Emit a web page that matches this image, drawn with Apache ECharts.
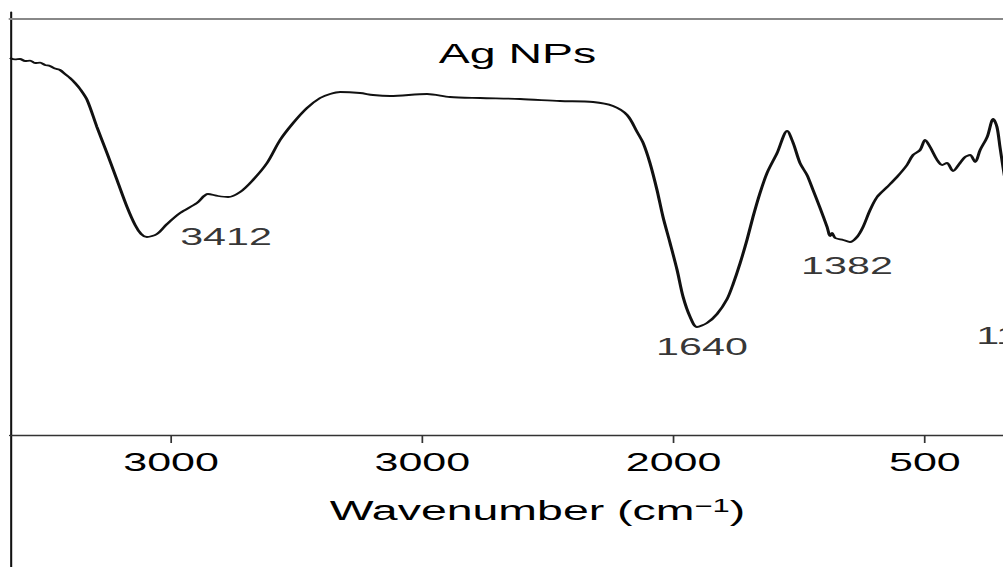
<!DOCTYPE html>
<html>
<head>
<meta charset="utf-8">
<script src="https://cdn.jsdelivr.net/npm/echarts@6/dist/echarts.min.js"></script>
<style>
  html, body { margin: 0; padding: 0; background: #fff; overflow: hidden; }
  /* the reference is a horizontally stretched picture, so the chart is stretched the same way */
  #main { width: 583px; height: 567px; transform: scaleX(1.7204); transform-origin: 0 0; }
</style>
</head>
<body>
<div id="main"></div>
<script>
// wavenumber-like x positions (cm-1) and transmittance (%)
var wavenumber = [4141, 4121, 4101, 4081, 4061, 4041, 4021, 4002, 3982, 3962, 3942, 3922, 3902, 3882, 3862,
  3834, 3795, 3755, 3715, 3675, 3643, 3619, 3596, 3556, 3516, 3464, 3397, 3353, 3313, 3273, 3225, 3174,
  3118, 3066, 3014, 2959, 2907, 2867, 2827, 2748, 2696, 2628, 2481, 2390, 2270, 2111, 1952, 1820, 1741,
  1685, 1645, 1621, 1594, 1566, 1542, 1514, 1486, 1462, 1434, 1407, 1367, 1327, 1287, 1263, 1235, 1208,
  1184, 1156, 1128, 1088, 1048, 1024, 997, 969, 945, 917, 889, 877, 869, 857, 825, 798, 770, 746, 718,
  690, 650, 611, 571, 547, 519, 499, 479, 451, 431, 412, 388, 360, 340, 320, 300, 280, 252, 228, 213,
  201, 189, 177];
var transmittance = [94.25, 93.9, 94.0, 93.5, 93.6, 93.0, 93.1, 92.5, 92.25, 91.6, 91.25, 90.25, 89.25, 88.0, 86.5,
  83.75, 77.0, 70.5, 63.75, 57.0, 52.5, 50.25, 49.5, 50.25, 52.75, 55.5, 58.0, 60.25, 59.75, 59.5, 60.75, 63.75,
  68.0, 73.75, 78.0, 81.75, 84.25, 85.25, 85.75, 85.5, 85.0, 84.75, 85.25, 84.5, 84.25, 84.0, 83.5, 83.25, 82.25,
  80.0, 75.75, 73.0, 68.0, 61.25, 54.5, 48.0, 41.25, 34.5, 29.5, 27.0, 28.0, 30.25, 34.0, 37.75, 43.0, 48.75,
  54.5, 60.5, 65.5, 70.5, 76.0, 73.0, 68.0, 65.0, 61.25, 56.75, 52.0, 49.75, 50.5, 49.25, 48.75, 48.25, 49.5, 52.0, 56.25,
  59.5, 62.0, 64.5, 67.5, 70.0, 71.25, 73.75, 72.0, 68.75, 67.5, 68.0, 66.0, 68.0, 69.5, 70.0, 68.25, 71.25, 74.5, 79.0, 77.0,
  72.0, 67.0, 62.5];

var tickValues = [3500, 2500, 1500, 500];
var tickLabels = ['3000', '3000', '2000', '500'];

// peak labels: text, and where the text sits
var peakLabels = ['3412', '1640', '1382', '1110'];
var peakLabelX = [3281, 1387, 810, 125];
var peakLabelY = [49.75, 22.25, 42.5, 25];

var FONT = 'Liberation Sans, Arial, sans-serif';

var lineData = wavenumber.map(function (w, i) { return [w, transmittance[i]]; });
var peakData = peakLabels.map(function (t, i) { return { name: t, value: [peakLabelX[i], peakLabelY[i]] }; });

var myChart = echarts.init(document.getElementById('main'), null, { renderer: 'svg' });
var option = {
  backgroundColor: '#fff',
  animation: false,
  title: {
    text: 'Ag NPs',
    left: 255,
    top: 40,
    padding: 0,
    textStyle: { fontFamily: FONT, fontSize: 27, fontWeight: 'normal', color: '#000' }
  },
  grid: [
    { left: 5.8, right: 0, top: 12, bottom: 132, outerBoundsMode: 'none' },
    { left: 5.8, right: 0, top: 435, bottom: 0, outerBoundsMode: 'none' }
  ],
  xAxis: [
    {
      type: 'value',
      gridIndex: 0,
      inverse: true,
      min: 189,
      max: 4141,
      axisLine: { show: true, onZero: false, lineStyle: { color: '#333', width: 1.3 } },
      axisTick: { show: true, customValues: tickValues, length: 8, lineStyle: { color: '#333', width: 1 } },
      axisLabel: {
        customValues: tickValues,
        margin: 15,
        fontFamily: FONT,
        fontSize: 25,
        color: '#000',
        formatter: function (v) { return tickLabels[tickValues.indexOf(v)]; }
      },
      splitLine: { show: false },
      name: 'Wavenumber (cm{sup|\u22121})',
      nameLocation: 'middle',
      nameGap: 62,
      nameTextStyle: {
        fontFamily: FONT,
        fontSize: 27,
        color: '#000',
        padding: [0, 0, 0, 36],
        rich: { sup: { fontFamily: FONT, fontSize: 18, verticalAlign: 'top', color: '#000' } }
      }
    },
    {
      type: 'value',
      gridIndex: 0,
      position: 'top',
      offset: -7,
      inverse: true,
      min: 189,
      max: 4141,
      axisLine: { show: true, onZero: false, lineStyle: { color: '#888', width: 1.8 } },
      axisTick: { show: false },
      axisLabel: { show: false },
      splitLine: { show: false }
    },
    {
      type: 'value',
      gridIndex: 1,
      show: false
    }
  ],
  yAxis: [
    {
      type: 'value',
      gridIndex: 0,
      min: 0,
      max: 105.75,
      axisLine: { show: true, lineStyle: { color: '#111', width: 1.2 } },
      axisTick: { show: false },
      axisLabel: { show: false },
      splitLine: { show: false }
    },
    {
      type: 'value',
      gridIndex: 1,
      axisLine: { show: true, lineStyle: { color: '#111', width: 1.2 } },
      axisTick: { show: false },
      axisLabel: { show: false },
      splitLine: { show: false }
    }
  ],
  series: [
    {
      type: 'line',
      data: lineData,
      showSymbol: false,
      smooth: 0.3,
      lineStyle: { color: '#111', width: 1.8 },
      silent: true
    },
    {
      type: 'scatter',
      data: peakData,
      symbolSize: 0,
      clip: false,
      silent: true,
      label: {
        show: true,
        position: 'inside',
        formatter: '{b}',
        fontFamily: FONT,
        fontSize: 24,
        color: '#000'
      }
    }
  ]
};
myChart.setOption(option);
</script>
</body>
</html>
